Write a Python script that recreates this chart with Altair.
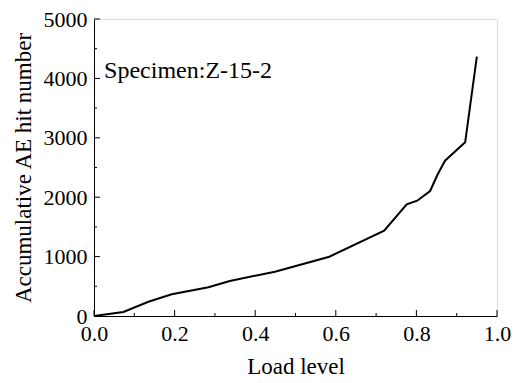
import altair as alt
import pandas as pd

# Data
load_level = [0.0, 0.073, 0.135, 0.193, 0.284, 0.337, 0.449, 0.584, 0.72, 0.776, 0.802, 0.834, 0.852, 0.871, 0.921, 0.950]
ae_hits = [0, 67, 240, 365, 483, 589, 746, 998, 1436, 1880, 1941, 2104, 2374, 2615, 2924, 4365]

x_major = [0.0, 0.2, 0.4, 0.6, 0.8, 1.0]
x_minor = [0.1, 0.3, 0.5, 0.7, 0.9]
y_major = [0, 1000, 2000, 3000, 4000, 5000]
y_minor = [500, 1500, 2500, 3500, 4500]

label_text = ["Specimen:Z-15-2"]
label_x = [0.025]
label_y = [4000]

W, H = 403, 297
FONT = "Liberation Serif"

df = pd.DataFrame({"load": load_level, "hits": ae_hits})
xs = alt.Scale(domain=[0, 1], nice=False)
ys = alt.Scale(domain=[0, 5000], nice=False)

line = alt.Chart(df).mark_line(color="black", strokeWidth=2).encode(
    x=alt.X("load:Q", scale=xs, axis=alt.Axis(
        title="Load level", values=x_major, format=".1f", ticks=False, domain=True, domainColor="black",
        grid=False,
        labelFont=FONT, labelFontSize=22, labelColor="black", labelPadding=7, labelFlush=False,
        titleFont=FONT, titleFontSize=23, titleFontWeight="normal", titleColor="black", titlePadding=11)),
    y=alt.Y("hits:Q", scale=ys, axis=alt.Axis(
        title="Accumulative AE hit number", values=y_major, format="d", ticks=False, domain=True,
        domainColor="black", grid=False,
        labelFont=FONT, labelFontSize=22, labelColor="black", labelPadding=7, labelFlush=False,
        titleFont=FONT, titleFontSize=23, titleFontWeight="normal", titleColor="black", titlePadding=8)),
)

def xticks(vals, length):
    d = pd.DataFrame({"v": vals})
    return alt.Chart(d).mark_rule(color="black", strokeWidth=1).encode(
        x=alt.X("v:Q", scale=xs), y=alt.value(H), y2=alt.value(H - length))

def yticks(vals, length):
    d = pd.DataFrame({"v": vals})
    return alt.Chart(d).mark_rule(color="black", strokeWidth=1).encode(
        y=alt.Y("v:Q", scale=ys), x=alt.value(0), x2=alt.value(length))

ann = alt.Chart(pd.DataFrame({"t": label_text, "x": label_x, "y": label_y})).mark_text(
    font=FONT, fontSize=24, color="black", align="left", baseline="alphabetic").encode(
    x=alt.X("x:Q", scale=xs), y=alt.Y("y:Q", scale=ys), text="t:N")

chart = alt.layer(
    line, xticks(x_major, 6), xticks(x_minor, 3), yticks(y_major, 6), yticks(y_minor, 3), ann
).properties(
    width=W, height=H,
    autosize=alt.AutoSizeParams(type="none"),
    padding={"left": 94, "top": 19, "right": 22, "bottom": 67},
).configure_view(stroke="black", strokeWidth=1).configure(background="white")

chart.save("out.html", embed_options={"renderer": "svg", "actions": False})
